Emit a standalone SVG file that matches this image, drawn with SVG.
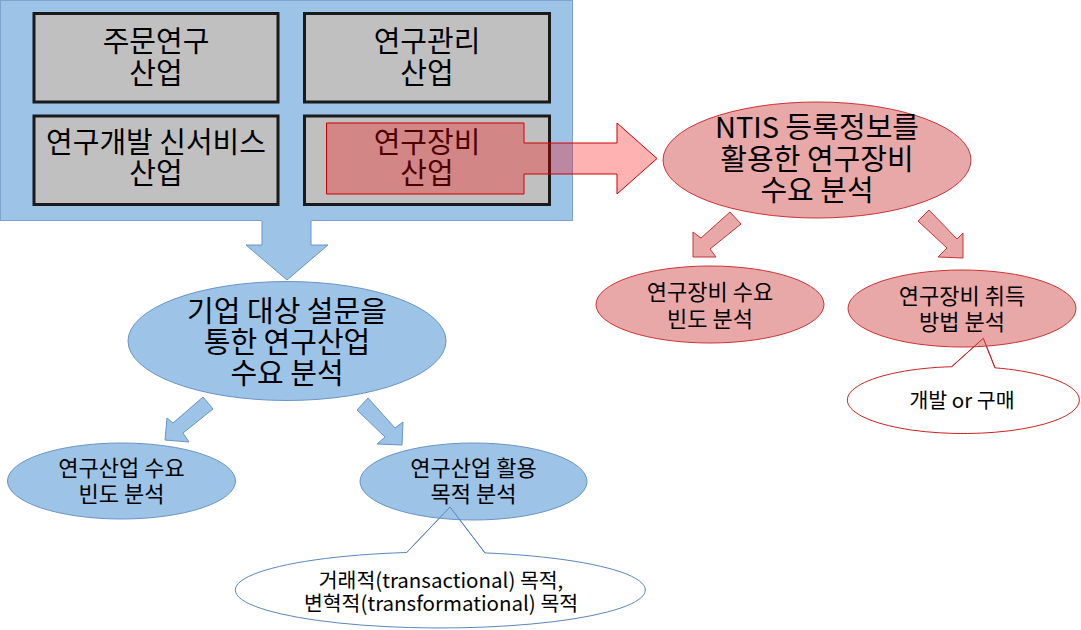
<svg xmlns="http://www.w3.org/2000/svg" width="1081" height="630" viewBox="0 0 1081 630">
<style>
text{font-family:"Noto Sans CJK KR","Malgun Gothic",sans-serif;fill:#000;text-anchor:middle}
.big{font-size:29px}
.mid{font-size:22px}
.sm{font-size:20.5px}
.box{fill:#C0C0C0;stroke:#1A1A1A;stroke-width:3}
.bl{fill:#9DC3E6;stroke:#6A93C8;stroke-width:1}
.rd{fill:#E8A8A8;stroke:#CC3333;stroke-width:1}
.cb{fill:#FFFFFF;stroke:#5A86BE;stroke-width:1}
.cr{fill:#FFFFFF;stroke:#CC2222;stroke-width:1}
</style>
<rect width="1081" height="630" fill="#FFFFFF"/>

<g id="industry-panel">
<rect x="0.5" y="0.5" width="572" height="220" fill="#9DC3E6" stroke="#7DA3CD" stroke-width="1"/>
</g>

<g id="box-jumun">
<rect class="box" x="34" y="13.5" width="244" height="88.5"/>
<text class="big"><tspan x="156" y="52">주문연구</tspan><tspan x="156" y="83.5">산업</tspan></text>
</g>
<g id="box-gwanri">
<rect class="box" x="304.5" y="13.5" width="245" height="88.5"/>
<text class="big"><tspan x="427" y="52">연구관리</tspan><tspan x="427" y="83.5">산업</tspan></text>
</g>
<g id="box-sinservice">
<rect class="box" x="34" y="116" width="244" height="88.5"/>
<text class="big"><tspan x="156" y="153">연구개발 신서비스</tspan><tspan x="156" y="183.5">산업</tspan></text>
</g>
<g id="box-jangbi">
<rect class="box" x="304.5" y="116" width="245" height="88.5"/>
<text class="big"><tspan x="427" y="153">연구장비</tspan><tspan x="427" y="183.5">산업</tspan></text>
</g>

<g id="callout-purpose">
<path class="cb" d="M406.7 552.5 L450 507 L485 552.9 A205 38 0 1 1 406.7 552.5 Z"/>
<text class="sm"><tspan x="441" y="587.5">거래적(transactional) 목적,</tspan><tspan x="441" y="611">변혁적(transformational) 목적</tspan></text>
</g>
<g id="callout-acquire">
<path class="cr" d="M951.7 366.7 L983.3 338.3 L995 367.8 A116 33.5 0 1 1 951.7 366.7 Z"/>
<text class="sm" x="962" y="407.5">개발 or 구매</text>
</g>

<g id="node-ntis">
<ellipse class="rd" cx="817" cy="160" rx="154" ry="58"/>
<text class="big"><tspan x="817" y="137.5">NTIS 등록정보를</tspan><tspan x="817" y="169.5">활용한 연구장비</tspan><tspan x="817" y="200.5">수요 분석</tspan></text>
</g>
<g id="node-equip-freq">
<ellipse class="rd" cx="710" cy="304.5" rx="114" ry="38.5"/>
<text class="mid"><tspan x="710" y="300">연구장비 수요</tspan><tspan x="710" y="327">빈도 분석</tspan></text>
</g>
<g id="node-equip-acq">
<ellipse class="rd" cx="962" cy="308.5" rx="114" ry="38.5"/>
<text class="mid"><tspan x="962" y="304">연구장비 취득</tspan><tspan x="962" y="330">방법 분석</tspan></text>
</g>
<g id="node-survey">
<ellipse class="bl" cx="287" cy="341" rx="159" ry="59.5"/>
<text class="big"><tspan x="287" y="321.5">기업 대상 설문을</tspan><tspan x="287" y="352.5">통한 연구산업</tspan><tspan x="287" y="383.5">수요 분석</tspan></text>
</g>
<g id="node-ind-freq">
<ellipse class="bl" cx="121.5" cy="481" rx="114" ry="38"/>
<text class="mid"><tspan x="121.5" y="476">연구산업 수요</tspan><tspan x="121.5" y="502">빈도 분석</tspan></text>
</g>
<g id="node-ind-purpose">
<ellipse class="bl" cx="473.5" cy="481.5" rx="113.5" ry="38.5"/>
<text class="mid"><tspan x="473.5" y="476">연구산업 활용</tspan><tspan x="473.5" y="502">목적 분석</tspan></text>
</g>

<g id="connectors">
<polyline points="406.7,552.5 450,507 485,552.9" fill="none" stroke="#5A86BE" stroke-width="1"/>
<polyline points="951.7,366.7 983.3,338.3 995,367.8" fill="none" stroke="#CC2222" stroke-width="1"/>
<path d="M262 218 L311 218 L311 245 L328 245 L287 280 L246 245 L262 245 Z" fill="#9DC3E6" stroke="none"/>
<polyline points="262,221 262,245 246,245 287,280 328,245 311,245 311,221" fill="none" stroke="#6A93C8" stroke-width="1"/>
<path d="M326.5 123 L524 123 L524 143 L617 143 L617 123 L657 158.5 L617 194 L617 174 L524 174 L524 194 L326.5 194 Z" fill="#FF0000" fill-opacity="0.3" stroke="#CC0000" stroke-width="1"/>
<polygon class="rd" points="730,212 741,224 710,249 716,257 693,257 693,232 701,238" stroke="#D02020"/>
<polygon class="rd" points="929,210 957,239 963,233 963,258 938,257 947,248 918,221" stroke="#D02020"/>
<polygon class="bl" points="203,397 213,409 183,433 189,442 165,440 167,418 173,423"/>
<polygon class="bl" points="368,398 395,428 403,422 402,445 377,444 385,437 357,410"/>
</g>
</svg>
